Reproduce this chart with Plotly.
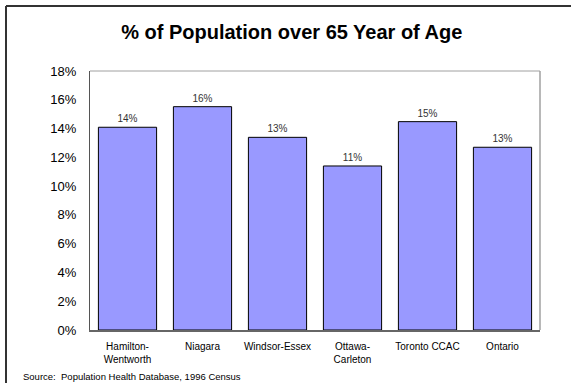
import plotly.graph_objects as go

categories = ["Hamilton-<br>Wentworth", "Niagara", "Windsor-Essex", "Ottawa-<br>Carleton", "Toronto CCAC", "Ontario"]
values = [14.09, 15.52, 13.39, 11.40, 14.48, 12.70]
labels = ["14%", "16%", "13%", "11%", "15%", "13%"]
tick_vals = [0, 2, 4, 6, 8, 10, 12, 14, 16, 18]
tick_text = ["0%", "2%", "4%", "6%", "8%", "10%", "12%", "14%", "16%", "18%"]

fig = go.Figure()
fig.add_trace(go.Bar(
    x=categories, y=values, text=labels, textposition="outside",
    textfont=dict(family="Liberation Sans, Arial", size=10, color="#333333"),
    marker=dict(color="#9999FF", line=dict(color="black", width=1)),
    cliponaxis=False,
))

fig.update_layout(
    width=571, height=383,
    margin=dict(l=90, r=31, t=71, b=53),
    paper_bgcolor="white", plot_bgcolor="white",
    bargap=0.224,
    showlegend=False,
    font=dict(family="Liberation Sans, Arial", color="black"),
    title=dict(text="<b>% of Population over 65 Year of Age</b>",
               font=dict(size=20, family="Liberation Sans, Arial", color="black"),
               x=0.511, xanchor="center", y=1 - 32 / 383, yanchor="middle",
               xref="container", yref="container"),
    xaxis=dict(showgrid=False, showline=True, linecolor="#666666", linewidth=2,
               ticks="outside", ticklen=6, tickcolor="rgba(0,0,0,0)",
               tickfont=dict(size=10, family="Liberation Sans, Arial", color="black"),
               fixedrange=True),
    yaxis=dict(range=[0, 18], tickvals=tick_vals, ticktext=tick_text,
               showgrid=False, showline=True, linecolor="#555555", linewidth=1,
               ticks="outside", ticklen=10, tickcolor="rgba(0,0,0,0)",
               tickfont=dict(size=13, family="Liberation Sans, Arial", color="black"),
               zeroline=False, fixedrange=True),
)

# plot-area top and right borders (light gray)
fig.add_shape(type="line", xref="paper", yref="paper", x0=0, x1=1, y0=1, y1=1,
              line=dict(color="#a0a0a0", width=1))
fig.add_shape(type="line", xref="paper", yref="paper", x0=1, x1=1, y0=0, y1=1,
              line=dict(color="#a0a0a0", width=1.5))

# outer chart border (left and top visible)
fig.add_shape(type="line", xref="paper", yref="paper",
              x0=-84 / 450, x1=1 + 31 / 450, y0=1 + 65 / 259, y1=1 + 65 / 259,
              line=dict(color="#333333", width=2))
fig.add_shape(type="line", xref="paper", yref="paper",
              x0=-84 / 450, x1=-84 / 450, y0=1 + 65 / 259, y1=-53 / 259,
              line=dict(color="#333333", width=2))

fig.add_annotation(text="Source:  Population Health Database, 1996 Census",
                   xref="paper", yref="paper", x=-69 / 450, y=-46 / 259,
                   xanchor="left", yanchor="middle", showarrow=False,
                   font=dict(size=9.5, family="Liberation Sans, Arial", color="black"))

fig.write_html("out.html")
